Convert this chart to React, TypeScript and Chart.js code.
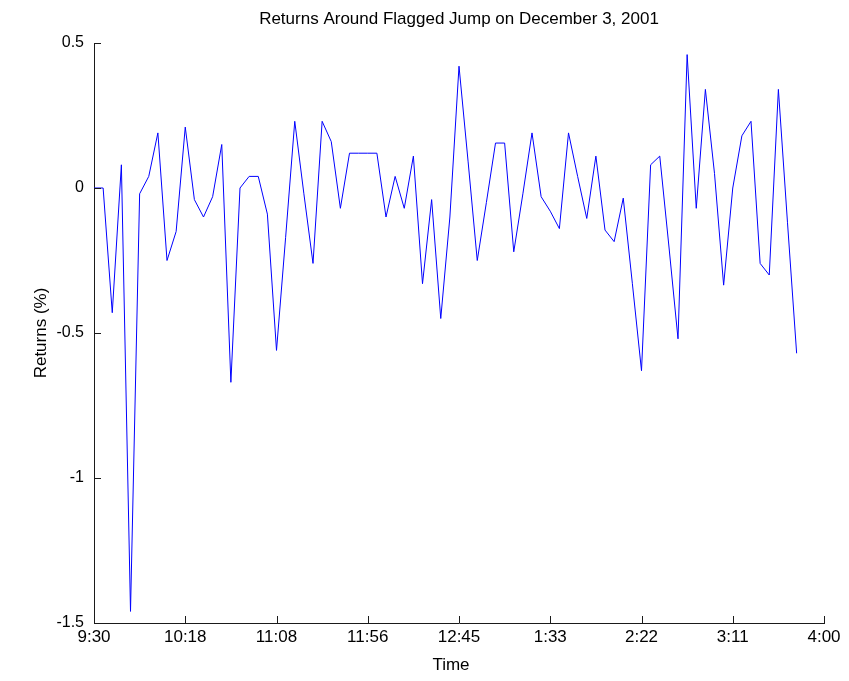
import React, { useEffect, useRef } from "react";
import { Chart, registerables } from "chart.js";

Chart.register(...registerables);

const chartTitle = "Returns Around Flagged Jump on December 3, 2001";
const xAxisTitle = "Time";
const yAxisTitle = "Returns (%)";

// 5-minute interval index (0..77)
const returnsPct = [
  0, 0, -0.43, 0.08, -1.46, -0.02, 0.04, 0.19, -0.25, -0.15,
  0.21, -0.04, -0.1, -0.03, 0.15, -0.67, 0.0, 0.04, 0.04, -0.09,
  -0.56, -0.17, 0.23, -0.02, -0.26, 0.23, 0.16, -0.07, 0.12, 0.12,
  0.12, 0.12, -0.1, 0.04, -0.07, 0.11, -0.33, -0.04, -0.45, -0.1,
  0.42, 0.09, -0.25, -0.05, 0.155, 0.155, -0.22, -0.02, 0.19, -0.03,
  -0.08, -0.14, 0.19, 0.04, -0.105, 0.11, -0.145, -0.185, -0.035, -0.33,
  -0.63, 0.08, 0.11, -0.2, -0.52, 0.46, -0.07, 0.34, 0.05, -0.335,
  0.0, 0.18, 0.23, -0.26, -0.3, 0.34, -0.12, -0.57,
];

const xTickValues = [0, 10, 20, 30, 40, 50, 60, 70, 80];
const xTickLabels = ["9:30", "10:18", "11:08", "11:56", "12:45", "1:33", "2:22", "3:11", "4:00"];
const yTickValues = [-1.5, -1, -0.5, 0, 0.5];
const yTickLabels = ["-1.5", "-1", "-0.5", "0", "0.5"];

const FONT = "'Liberation Sans', Arial, sans-serif";
const AXIS_COLOR = "#1a1a1a";

const decorPlugin = {
  id: "matlabDecor",
  afterDraw(chart: any) {
    const { ctx, chartArea } = chart;
    const xs = chart.scales.x;
    const ys = chart.scales.y;
    ctx.save();
    // inward tick marks
    ctx.strokeStyle = AXIS_COLOR;
    ctx.lineWidth = 1;
    ctx.beginPath();
    xTickValues.forEach((v) => {
      const px = Math.round(xs.getPixelForValue(v)) + 0.5;
      ctx.moveTo(px, chartArea.bottom);
      ctx.lineTo(px, chartArea.bottom - 7);
    });
    yTickValues.forEach((v) => {
      const py = Math.round(ys.getPixelForValue(v)) + 0.5;
      ctx.moveTo(chartArea.left, py);
      ctx.lineTo(chartArea.left + 7, py);
    });
    ctx.stroke();
    // title
    ctx.fillStyle = "#000";
    ctx.textAlign = "center";
    ctx.textBaseline = "alphabetic";
    ctx.font = `17px ${FONT}`;
    ctx.fillText(chartTitle, (chartArea.left + chartArea.right) / 2, 24);
    // x axis title
    ctx.font = `17px ${FONT}`;
    ctx.fillText(xAxisTitle, 451, 670);
    // y axis title
    ctx.translate(46, (chartArea.top + chartArea.bottom) / 2);
    ctx.rotate(-Math.PI / 2);
    ctx.fillText(yAxisTitle, 0, 0);
    ctx.restore();
  },
};

export default function App() {
  const canvasRef = useRef<HTMLCanvasElement | null>(null);

  useEffect(() => {
    if (!canvasRef.current) return;
    const chart = new Chart(canvasRef.current, {
      type: "line",
      data: {
        datasets: [
          {
            data: returnsPct.map((v, i) => ({ x: i, y: v })),
            borderColor: "#0000ff",
            borderWidth: 1,
            pointRadius: 0,
            tension: 0,
            fill: false,
          },
        ],
      },
      options: {
        animation: false,
        responsive: false,
        maintainAspectRatio: false,
        layout: { padding: { top: 43, right: 25, left: 0, bottom: 0 } },
        plugins: {
          legend: { display: false },
          title: { display: false },
          tooltip: { enabled: false },
        },
        scales: {
          x: {
            type: "linear",
            min: 0,
            max: 80,
            afterFit: (scale: any) => {
              scale.height = 58;
            },
            afterBuildTicks: (scale: any) => {
              scale.ticks = xTickValues.map((v) => ({ value: v }));
            },
            grid: { display: false, drawTicks: false, tickLength: 0 },
            border: { display: true, color: AXIS_COLOR, width: 1 },
            ticks: {
              autoSkip: false,
              maxRotation: 0,
              padding: 4,
              color: "#000",
              font: { family: FONT, size: 17 },
              callback: (value: any) => {
                const idx = xTickValues.indexOf(Number(value));
                return idx >= 0 ? xTickLabels[idx] : "";
              },
            },
          },
          y: {
            type: "linear",
            min: -1.5,
            max: 0.5,
            afterFit: (scale: any) => {
              scale.width = 94;
            },
            afterBuildTicks: (scale: any) => {
              scale.ticks = yTickValues.map((v) => ({ value: v }));
            },
            grid: { display: false, drawTicks: false, tickLength: 0 },
            border: { display: true, color: AXIS_COLOR, width: 1 },
            ticks: {
              autoSkip: false,
              padding: 10,
              color: "#000",
              font: { family: FONT, size: 16 },
              callback: (value: any) => {
                const idx = yTickValues.indexOf(Number(value));
                return idx >= 0 ? yTickLabels[idx] : "";
              },
            },
          },
        },
      },
      plugins: [decorPlugin],
    });
    return () => chart.destroy();
  }, []);

  return (
    <div style={{ position: "fixed", left: 0, top: 0, width: 849, height: 681, background: "#fff" }}>
      <canvas ref={canvasRef} width={849} height={681} style={{ display: "block" }} />
    </div>
  );
}
